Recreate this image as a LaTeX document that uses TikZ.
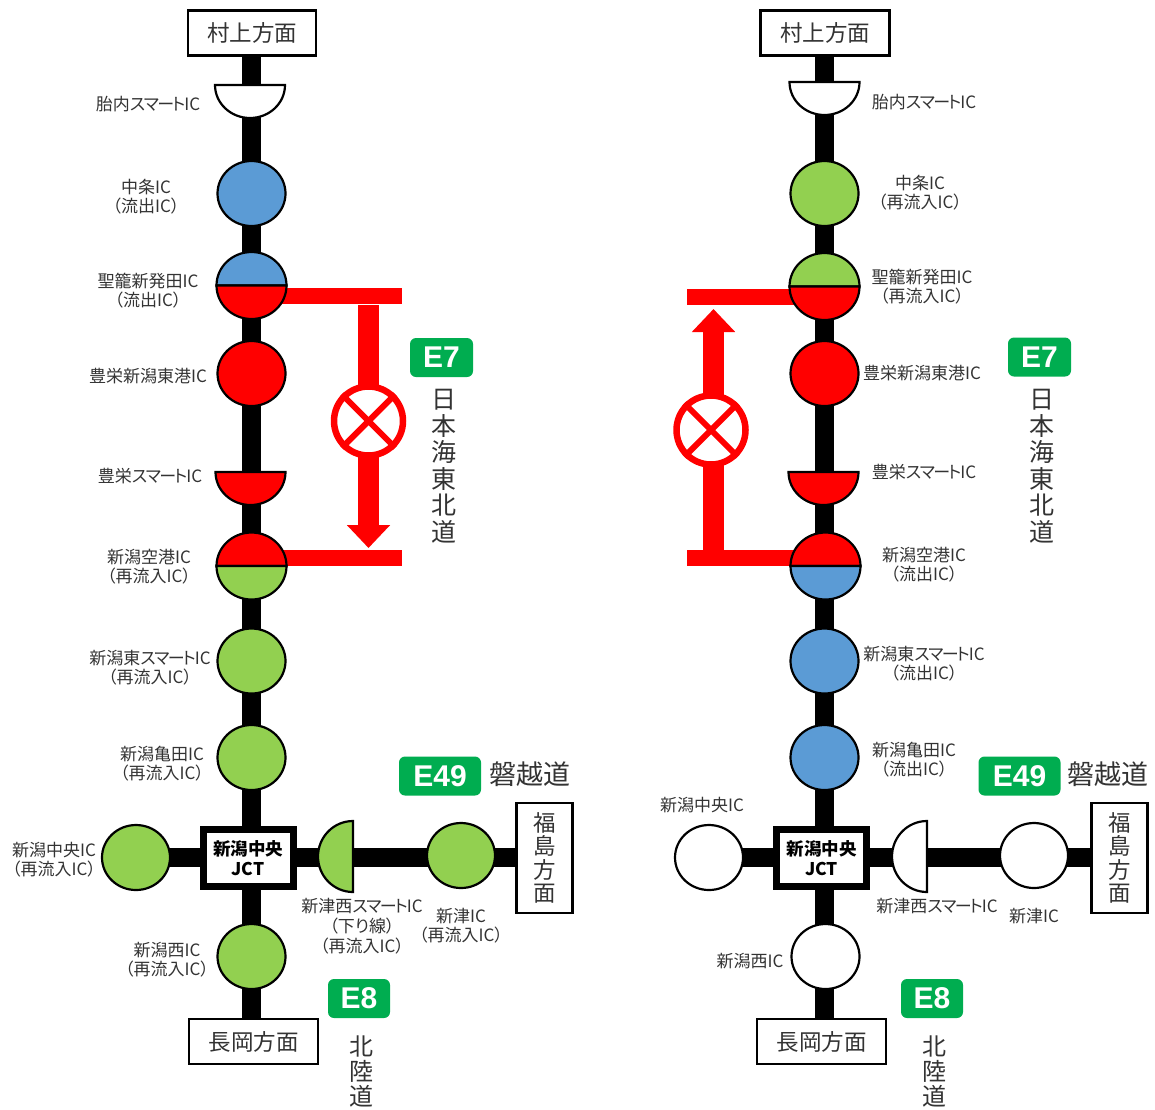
\documentclass[tikz,border=0pt]{standalone}
\usepackage{fontspec}
\setmainfont[RawFeature=+palt]{Noto Sans CJK JP}
\newfontfamily\latinbold[BoldFont=Liberation Sans Bold]{Liberation Sans}
\usetikzlibrary{shapes.geometric,arrows.meta,backgrounds}
\definecolor{icblue}{HTML}{5B9BD5}
\definecolor{icgreen}{HTML}{92D050}
\definecolor{icred}{HTML}{FF0000}
\definecolor{badgegreen}{HTML}{00AD50}
\definecolor{labelgray}{HTML}{333333}
\newcommand{\smartic}{ス\kern-1.5ptマ\kern-1.5ptー\kern-2ptト\kern-1ptIC}
\tikzset{
  x=1pt,y=-1pt,
  icnode/.style={ellipse,draw=black,line width=2.2pt,minimum width=68pt,minimum height=65pt,inner sep=0pt},
  road/.style={line width=18.5pt,black},
  redbar/.style={line width=16pt,icred},
  closedarrow/.style={line width=21pt,icred,-{Triangle[length=23pt,width=42pt]}},
  closedring/.style={circle,draw=icred,line width=6.5pt,fill=white,minimum size=69pt,inner sep=0pt},
  closedx/.style={line width=6pt,icred},
  dirbox/.style={draw=black,line width=2.2pt,fill=white,inner sep=0pt,font=\fontsize{22.5}{24}\selectfont,text=labelgray,align=center},
  jctbox/.style={draw=black,line width=7pt,fill=white,minimum width=90pt,minimum height=57pt,inner sep=0pt,align=center,font=\fontsize{17.5}{20}\selectfont\bfseries},
  badge/.style={fill=badgegreen,rounded corners=6pt,text=white,minimum height=39pt,inner sep=0pt,font=\latinbold\fontsize{30}{32}\selectfont\bfseries},
  iclabel/.style={font=\fontsize{17}{19}\selectfont,text=labelgray,align=center,inner sep=0pt,yshift=-0.8pt},
  roadname/.style={font=\fontsize{25}{26.5}\selectfont,text=labelgray,align=center,inner sep=0pt},
  halfline/.style={draw=black,line width=2.2pt},
}
% half disc hanging below a flat edge
\newcommand{\halfdown}[4]{%
  \coordinate (#1) at (#2,#3);
  \path[halfline,fill=#4] (#2-35,#3) arc[start angle=180,end angle=0,x radius=35,y radius=33] -- cycle;}
% disc split into two colours at its flat edge
\newcommand{\splitdisc}[5]{%
  \coordinate (#1) at (#2,#3);
  \path[halfline,fill=#4] (#2-35,#3) arc[start angle=180,end angle=360,x radius=35,y radius=33.5] -- cycle;
  \path[halfline,fill=#5] (#2-35,#3) arc[start angle=180,end angle=0,x radius=35,y radius=33.5] -- cycle;}
\begin{document}
\begin{tikzpicture}
\useasboundingbox (0,0) rectangle (1155,1109);

% ---------- LEFT DIAGRAM ----------
\node[dirbox,minimum width=128pt,minimum height=45pt] (lMura) at (252,33) {村上方面};
\halfdown{lTainai}{250}{85}{white}
\node[icnode,fill=icblue] (lNaka) at (251.5,193.5) {};
\splitdisc{lSeiro}{251.5}{285.5}{icblue}{icred}
\node[icnode,fill=icred] (lHigashi) at (251.5,373.5) {};
\halfdown{lHoei}{250.5}{472}{icred}
\splitdisc{lKuko}{251.5}{566}{icred}{icgreen}
\node[icnode,fill=icgreen] (lSmart) at (251.5,661) {};
\node[icnode,fill=icgreen] (lKame) at (251.5,757.5) {};
\node[jctbox] (lJct) at (248,858) {新潟中央\\JCT};
\node[icnode,fill=icgreen] (lChuo) at (136,857.5) {};
\coordinate (lTsunishi) at (353,857.5);
\path[halfline,fill=icgreen] (353,821) arc[start angle=90,end angle=270,x radius=35,y radius=-35.5] -- cycle;
\node[icnode,fill=icgreen] (lTsu) at (461,855.5) {};
\node[dirbox,minimum width=56pt,minimum height=110pt,font=\fontsize{22.5}{23.5}\selectfont] (lFuku) at (544.5,858) {福\\島\\方\\面};
\node[icnode,fill=icgreen] (lNishi) at (251.5,956.5) {};
\node[dirbox,minimum width=129pt,minimum height=45pt] (lNaga) at (253.5,1041.5) {長岡方面};

\begin{scope}[on background layer]
  \draw[road] (lNaka |- lMura.center) -- (lNaka |- lTainai) -- (lNaka.center) -- (lSeiro) -- (lHigashi.center) -- (lNaka |- lHoei) -- (lKuko) -- (lSmart.center) -- (lKame.center) -- (lNaka |- lJct.center);
  \draw[road] (lNaka |- lJct.center) -- (lNishi.center) -- (lNishi |- lNaga.center);
  \draw[road] (lChuo.center) -- (lChuo -| lJct.center);
  \draw[road] (lChuo -| lJct.center) -- (lTsunishi) -- (lTsu.center |- lTsunishi) -- (lFuku.center |- lTsunishi);
\end{scope}

\coordinate (lBarTopEnd) at (402,296);
\coordinate (lBarBotEnd) at (402,558);
\begin{scope}[on background layer]
  \draw[redbar] (lSeiro |- lBarTopEnd) -- (lBarTopEnd);
  \draw[redbar] (lKuko |- lBarBotEnd) -- (lBarBotEnd);
\end{scope}
\coordinate (lArrowFrom) at (368.5,305);
\coordinate (lArrowTo) at (368.5,548);
\draw[closedarrow] (lArrowFrom) -- (lArrowTo);
\node[closedring] (lClosed) at (368.5,421) {};
\draw[closedx] (lClosed.45) -- (lClosed.225);
\draw[closedx] (lClosed.135) -- (lClosed.315);

\node[badge,minimum width=63pt] (lE7) at (441.5,357.5) {E7};
\node[badge,minimum width=82pt] (lE49) at (440,776) {E49};
\node[badge,minimum width=62pt] (lE8) at (359,998.5) {E8};
\node[roadname] (lNihonkai) at (443.5,466) {日\\本\\海\\東\\北\\道};
\node[roadname,font=\fontsize{27}{28}\selectfont] (lBanetsu) at (529.5,774) {磐越道};
\node[roadname,font=\fontsize{24}{25}\selectfont] (lHokuriku) at (361,1071) {北\\陸\\道};

\node[iclabel] at (148,103) {胎内\smartic};
\node[iclabel] at (146,196) {中条IC\\（流出IC）};
\node[iclabel] at (148,290) {聖籠新発田IC\\（流出IC）};
\node[iclabel] at (148,375) {豊栄新潟東港IC};
\node[iclabel] at (150,475) {豊栄\smartic};
\node[iclabel] at (149,566) {新潟空港IC\\（再流入IC）};
\node[iclabel] at (150,667) {新潟東\smartic\\（再流入IC）};
\node[iclabel] at (162,763) {新潟亀田IC\\（再流入IC）};
\node[iclabel] at (54,859) {新潟中央IC\\（再流入IC）};
\node[iclabel,font=\fontsize{17}{20}\selectfont] at (362,925) {新津西\smartic\\（下り線）\\（再流入IC）};
\node[iclabel] at (461,925) {新津IC\\（再流入IC）};
\node[iclabel] at (167,959) {新潟西IC\\（再流入IC）};

% ---------- RIGHT DIAGRAM ----------
\node[dirbox,minimum width=129pt,minimum height=45pt] (rMura) at (825,33) {村上方面};
\halfdown{rTainai}{824.5}{82}{white}
\node[icnode,fill=icgreen] (rNaka) at (824.5,193.5) {};
\splitdisc{rSeiro}{824.5}{286.5}{icgreen}{icred}
\node[icnode,fill=icred] (rHigashi) at (824.5,373.5) {};
\halfdown{rHoei}{823.5}{472}{icred}
\splitdisc{rKuko}{825.5}{566}{icred}{icblue}
\node[icnode,fill=icblue] (rSmart) at (824.5,661) {};
\node[icnode,fill=icblue] (rKame) at (824.5,757.5) {};
\node[jctbox] (rJct) at (821.5,858) {新潟中央\\JCT};
\node[icnode,fill=white] (rChuo) at (709,857.5) {};
\coordinate (rTsunishi) at (927,857.5);
\path[halfline,fill=white] (927,821) arc[start angle=90,end angle=270,x radius=35,y radius=-35.5] -- cycle;
\node[icnode,fill=white] (rTsu) at (1034,855.5) {};
\node[dirbox,minimum width=56pt,minimum height=110pt,font=\fontsize{22.5}{23.5}\selectfont] (rFuku) at (1119.5,858) {福\\島\\方\\面};
\node[icnode,fill=white] (rNishi) at (825.5,956.5) {};
\node[dirbox,minimum width=129pt,minimum height=45pt] (rNaga) at (821.5,1041.5) {長岡方面};

\begin{scope}[on background layer]
  \draw[road] (rNaka |- rMura.center) -- (rNaka |- rTainai) -- (rNaka.center) -- (rSeiro) -- (rHigashi.center) -- (rNaka |- rHoei) -- (rNaka |- rKuko) -- (rSmart.center) -- (rKame.center) -- (rNaka |- rJct.center);
  \draw[road] (rNaka |- rJct.center) -- (rNaka |- rNishi.center) -- (rNaka |- rNaga.center);
  \draw[road] (rChuo.center) -- (rChuo -| rJct.center);
  \draw[road] (rChuo -| rJct.center) -- (rTsunishi) -- (rTsu.center |- rTsunishi) -- (rFuku.center |- rTsunishi);
\end{scope}

\coordinate (rBarTopEnd) at (687,297);
\coordinate (rBarBotEnd) at (687,558);
\begin{scope}[on background layer]
  \draw[redbar] (rSeiro |- rBarTopEnd) -- (rBarTopEnd);
  \draw[redbar] (rKuko |- rBarBotEnd) -- (rBarBotEnd);
\end{scope}
\coordinate (rArrowFrom) at (713.5,551);
\coordinate (rArrowTo) at (713.5,309);
\draw[closedarrow] (rArrowFrom) -- (rArrowTo);
\node[closedring] (rClosed) at (711,430) {};
\draw[closedx] (rClosed.45) -- (rClosed.225);
\draw[closedx] (rClosed.135) -- (rClosed.315);

\node[badge,minimum width=63pt] (rE7) at (1039.5,357) {E7};
\node[badge,minimum width=82pt] (rE49) at (1019.5,776) {E49};
\node[badge,minimum width=62pt] (rE8) at (932,998.5) {E8};
\node[roadname] (rNihonkai) at (1041.5,466) {日\\本\\海\\東\\北\\道};
\node[roadname,font=\fontsize{27}{28}\selectfont] (rBanetsu) at (1107.5,774) {磐越道};
\node[roadname,font=\fontsize{24}{25}\selectfont] (rHokuriku) at (934,1071) {北\\陸\\道};

\node[iclabel] at (924,101) {胎内\smartic};
\node[iclabel] at (920,192) {中条IC\\（再流入IC）};
\node[iclabel] at (922,286) {聖籠新発田IC\\（再流入IC）};
\node[iclabel] at (922,372) {豊栄新潟東港IC};
\node[iclabel] at (924,471) {豊栄\smartic};
\node[iclabel] at (924,564) {新潟空港IC\\（流出IC）};
\node[iclabel] at (924,663) {新潟東\smartic\\（流出IC）};
\node[iclabel] at (914,759) {新潟亀田IC\\（流出IC）};
\node[iclabel] at (702,804) {新潟中央IC};
\node[iclabel] at (937,905) {新津西\smartic};
\node[iclabel] at (1034,915) {新津IC};
\node[iclabel] at (750,960) {新潟西IC};
\end{tikzpicture}
\end{document}
